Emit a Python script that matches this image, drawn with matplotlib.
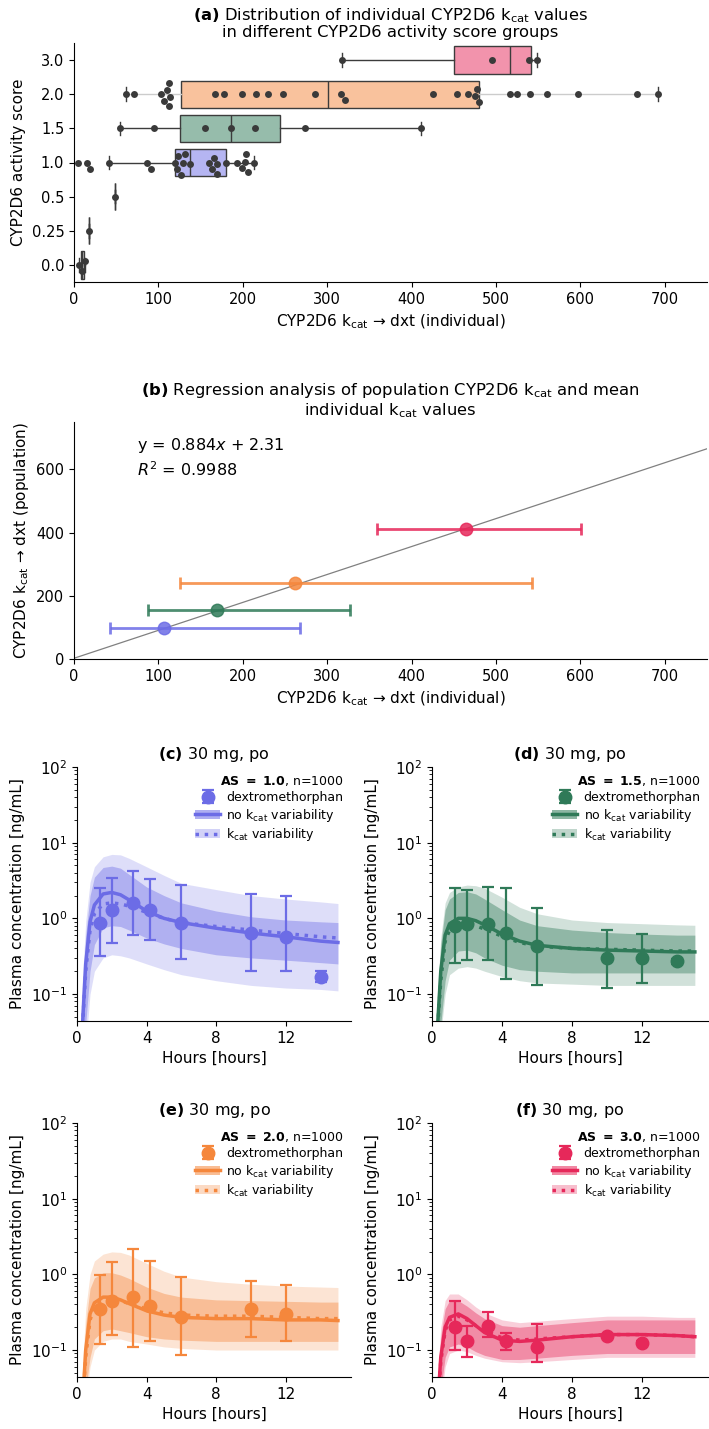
import numpy as np
import pandas as pd
import matplotlib
matplotlib.use('Agg')
import matplotlib.pyplot as plt
import matplotlib.colors as mcolors
import seaborn as sns
from matplotlib.patches import Patch
from matplotlib.lines import Line2D

plt.rcParams['font.family'] = ['DejaVu Sans']
plt.rcParams['mathtext.default'] = 'regular'

C10 = '#6c6ce6'; C15 = '#2f7a58'; C20 = '#f5873c'; C30 = '#e6285a'
DOT = '#3a3a3a'

# ── (a) individual kcat values per activity score group ─────
as_order = ['3.0', '2.0', '1.5', '1.0', '0.5', '0.25', '0.0']
kcat_as30 = [317, 495, 539, 548]
kcat_as20 = [62, 71, 103, 107, 110, 112, 113, 114, 167, 178, 199, 216, 230, 248,
             285, 316, 321, 425, 454, 467, 475, 478, 480, 516, 525, 540, 560, 597,
             667, 692]
kcat_as15 = [55, 95, 155, 186, 215, 274, 411]
kcat_as10 = [4.6, 15, 19, 41.5, 87, 91, 120, 122.5, 123.6, 127.3, 129, 131.5, 137,
             160, 163, 166, 169, 169, 180, 193.5, 199, 203, 204, 206, 213]
kcat_as05 = [48]
kcat_as025 = [18]
kcat_as00 = [6, 10, 13]
box_colors = [C30, C20, C15, C10, '#999999', '#999999', '#999999']

# ── (b) regression population vs. mean individual kcat ──────
reg_colors = [C10, C15, C20, C30]
ind_mean = [107, 170, 262, 465]
ind_lo = [43, 88, 126, 359]
ind_hi = [268, 327, 543, 601]
pop_kcat = [98, 155, 242, 411]
reg_slope, reg_icpt, reg_r2 = 0.884, 2.31, 0.9988

# ── (c)-(f) PK simulations ───────────────────────────────────
t_sim = [0, 0.25, 0.5, 0.75, 1, 1.5, 2, 2.5, 3, 4, 5, 6, 8, 10, 12, 14, 15]

med10 = [0.001, 0.02, 0.25, 0.9, 1.5, 2.1, 2.2, 2.05, 1.75, 1.25, 1.0, 0.88, 0.74, 0.64, 0.57, 0.5, 0.48]
var10 = [0.001, 0.02, 0.2, 0.7, 1.15, 1.55, 1.6, 1.55, 1.45, 1.2, 1.0, 0.88, 0.78, 0.7, 0.63, 0.57, 0.55]
nlo10 = [0.001, 0.005, 0.04, 0.2, 0.45, 0.75, 0.8, 0.78, 0.7, 0.55, 0.46, 0.4, 0.33, 0.3, 0.28, 0.26, 0.25]
nhi10 = [0.001, 0.06, 0.6, 2.0, 3.5, 4.7, 4.9, 4.6, 3.8, 2.6, 2.0, 1.6, 1.25, 1.05, 0.95, 0.9, 0.88]
vlo10 = [0.001, 0.002, 0.02, 0.1, 0.2, 0.3, 0.33, 0.32, 0.3, 0.25, 0.21, 0.18, 0.15, 0.13, 0.12, 0.115, 0.11]
vhi10 = [0.001, 0.09, 0.9, 3.0, 4.8, 6.5, 7.0, 6.9, 6.2, 4.8, 3.7, 2.9, 2.4, 2.0, 1.8, 1.65, 1.57]

med15 = [0.001, 0.02, 0.2, 0.6, 0.85, 1.0, 1.0, 0.93, 0.82, 0.62, 0.5, 0.44, 0.4, 0.38, 0.37, 0.36, 0.36]
var15 = [0.001, 0.02, 0.15, 0.5, 0.7, 0.82, 0.85, 0.8, 0.72, 0.58, 0.48, 0.43, 0.4, 0.39, 0.38, 0.37, 0.37]
nlo15 = [0.001, 0.005, 0.04, 0.15, 0.28, 0.37, 0.38, 0.35, 0.3, 0.24, 0.21, 0.2, 0.19, 0.19, 0.19, 0.19, 0.19]
nhi15 = [0.001, 0.05, 0.45, 1.3, 1.8, 2.2, 2.25, 2.1, 1.8, 1.3, 0.95, 0.8, 0.7, 0.65, 0.62, 0.6, 0.6]
vlo15 = [0.001, 0.003, 0.03, 0.1, 0.18, 0.22, 0.23, 0.22, 0.2, 0.17, 0.15, 0.14, 0.135, 0.13, 0.13, 0.13, 0.13]
vhi15 = [0.001, 0.06, 0.55, 1.6, 2.2, 2.6, 2.75, 2.7, 2.5, 1.9, 1.4, 1.15, 0.95, 0.88, 0.85, 0.82, 0.81]

med20 = [0.001, 0.01, 0.1, 0.3, 0.42, 0.5, 0.5, 0.46, 0.41, 0.33, 0.29, 0.27, 0.26, 0.26, 0.25, 0.25, 0.245]
var20 = [0.001, 0.01, 0.08, 0.25, 0.37, 0.45, 0.47, 0.45, 0.41, 0.35, 0.31, 0.29, 0.28, 0.28, 0.27, 0.26, 0.26]
nlo20 = [0.001, 0.003, 0.03, 0.08, 0.14, 0.18, 0.19, 0.18, 0.17, 0.15, 0.14, 0.135, 0.13, 0.13, 0.13, 0.13, 0.13]
nhi20 = [0.001, 0.02, 0.22, 0.65, 0.9, 1.05, 1.05, 0.98, 0.88, 0.68, 0.56, 0.5, 0.46, 0.45, 0.44, 0.43, 0.43]
vlo20 = [0.001, 0.002, 0.02, 0.06, 0.1, 0.13, 0.14, 0.14, 0.13, 0.12, 0.11, 0.105, 0.1, 0.1, 0.1, 0.1, 0.1]
vhi20 = [0.001, 0.03, 0.35, 1.0, 1.5, 1.85, 1.98, 1.95, 1.8, 1.4, 1.1, 0.92, 0.8, 0.74, 0.7, 0.68, 0.67]

med30 = [0.001, 0.01, 0.08, 0.2, 0.27, 0.3, 0.26, 0.21, 0.17, 0.135, 0.13, 0.135, 0.15, 0.16, 0.16, 0.155, 0.15]
var30 = [0.001, 0.01, 0.07, 0.18, 0.25, 0.28, 0.25, 0.21, 0.18, 0.145, 0.135, 0.14, 0.15, 0.16, 0.16, 0.155, 0.15]
nlo30 = [0.001, 0.003, 0.03, 0.08, 0.11, 0.12, 0.11, 0.095, 0.085, 0.075, 0.075, 0.078, 0.085, 0.09, 0.09, 0.09, 0.09]
nhi30 = [0.001, 0.02, 0.15, 0.35, 0.45, 0.45, 0.38, 0.31, 0.26, 0.21, 0.2, 0.21, 0.23, 0.25, 0.25, 0.25, 0.25]
vlo30 = [0.001, 0.002, 0.02, 0.06, 0.09, 0.1, 0.095, 0.085, 0.078, 0.07, 0.068, 0.07, 0.075, 0.08, 0.08, 0.08, 0.08]
vhi30 = [0.001, 0.025, 0.2, 0.45, 0.55, 0.55, 0.46, 0.37, 0.31, 0.25, 0.23, 0.24, 0.26, 0.28, 0.28, 0.27, 0.27]

# observed dextromethorphan (mean, lower, upper)
t_obs10 = [1.3, 2.0, 3.2, 4.2, 6.0, 10.0, 12.0, 14.0]
obs10 = [0.88, 1.28, 1.6, 1.3, 0.88, 0.64, 0.57, 0.17]
olo10 = [0.32, 0.47, 0.61, 0.51, 0.29, 0.2, 0.2, 0.145]
ohi10 = [2.48, 3.46, 4.23, 3.28, 2.74, 2.08, 1.98, 0.2]

t_obs15 = [1.3, 2.0, 3.2, 4.2, 6.0, 10.0, 12.0, 14.0]
obs15 = [0.79, 0.83, 0.85, 0.64, 0.43, 0.3, 0.3, 0.27]
olo15 = [0.26, 0.28, 0.28, 0.16, 0.13, 0.12, 0.14, 0.25]
ohi15 = [2.52, 2.35, 2.6, 2.55, 1.37, 0.71, 0.63, 0.29]

t_obs20 = [1.3, 2.0, 3.2, 4.2, 6.0, 10.0, 12.0]
obs20 = [0.35, 0.45, 0.5, 0.38, 0.27, 0.35, 0.3]
olo20 = [0.12, 0.16, 0.11, 0.13, 0.085, 0.15, 0.13]
ohi20 = [0.98, 1.45, 2.16, 1.49, 0.92, 0.82, 0.73]

t_obs30 = [1.3, 2.0, 3.2, 4.2, 6.0, 10.0, 12.0]
obs30 = [0.2, 0.13, 0.21, 0.13, 0.11, 0.155, 0.125]
olo30 = [0.1, 0.08, 0.15, 0.1, 0.07, 0.15, 0.12]
ohi30 = [0.45, 0.21, 0.32, 0.17, 0.22, 0.16, 0.13]

W, H = 709, 1429
fig = plt.figure(figsize=(W / 100, H / 100), dpi=100)

def px_axes(l, t, r, b):
    return fig.add_axes([l / W, 1 - b / H, (r - l) / W, (b - t) / H])

# ── panel (a) ───────────────────────────────────────────────
ax1 = px_axes(74, 43, 707, 282)
groups = [kcat_as30, kcat_as20, kcat_as15, kcat_as10, kcat_as05, kcat_as025, kcat_as00]
bp = ax1.boxplot(groups, positions=range(len(groups)), orientation='horizontal',
                 widths=0.8, patch_artist=True, showfliers=False, manage_ticks=False,
                 medianprops=dict(color='#3c3c3c', lw=1),
                 whiskerprops=dict(color='#3c3c3c', lw=1),
                 capprops=dict(color='#3c3c3c', lw=1),
                 boxprops=dict(lw=1))
for patch, c in zip(bp['boxes'], box_colors):
    patch.set_facecolor(mcolors.to_rgba(c, 0.5))
    patch.set_edgecolor('#3c3c3c')
# AS 2.0 whiskers drawn light
for w in bp['whiskers'][2:4]:
    w.set_color('#cccccc')

df_a = pd.DataFrame({
    'AS': sum([[lab] * len(g) for lab, g in zip(as_order, groups)], []),
    'kcat': sum([list(g) for g in groups], []),
})
sns.swarmplot(data=df_a, x='kcat', y='AS', order=as_order, color=DOT, size=5,
              ax=ax1, zorder=3)
ax1.set_ylim(6.5, -0.5)
ax1.set_xlim(0, 750)
ax1.set_xticks(range(0, 701, 100))
ax1.tick_params(labelsize=10.5)
ax1.set_xlabel(r'CYP2D6 k$_{cat}$ → dxt (individual)', fontsize=11)
ax1.set_ylabel('CYP2D6 activity score', fontsize=11)
ax1.set_title(r'$\bf{(a)}$ Distribution of individual CYP2D6 k$_{cat}$ values' '\n'
              'in different CYP2D6 activity score groups',
              fontsize=11.8, pad=4, linespacing=1.05)
for s in ['top', 'right']:
    ax1.spines[s].set_visible(False)

# ── panel (b) ───────────────────────────────────────────────
ax2 = px_axes(74, 422, 707, 659)
ax2.axline((0, reg_icpt), slope=reg_slope, color='#808080', lw=0.9, zorder=1)
for xm, lo, hi, yp, c in zip(ind_mean, ind_lo, ind_hi, pop_kcat, reg_colors):
    ax2.errorbar([xm], [yp], xerr=[[xm - lo], [hi - xm]], fmt='o', color=c,
                 ms=9, lw=2, capsize=4, capthick=2, alpha=0.85, zorder=3)
ax2.text(0.1, 0.9, 'y = 0.884$\\it{x}$ + 2.31', transform=ax2.transAxes,
         fontsize=11.5, va='center')
ax2.text(0.1, 0.8, '$\\it{R}^2$ = %.4f' % reg_r2, transform=ax2.transAxes,
         fontsize=11.5, va='center')
ax2.set_xlim(0, 750)
ax2.set_ylim(0, 750)
ax2.set_xticks(range(0, 701, 100))
ax2.set_yticks([0, 200, 400, 600])
ax2.tick_params(labelsize=10.5)
ax2.set_xlabel(r'CYP2D6 k$_{cat}$ → dxt (individual)', fontsize=11)
ax2.set_ylabel(r'CYP2D6 k$_{cat}$ → dxt (population)', fontsize=11)
ax2.set_title(r'$\bf{(b)}$ Regression analysis of population CYP2D6 k$_{cat}$ and mean' '\n'
              r'individual k$_{cat}$ values',
              fontsize=11.8, pad=5, linespacing=1.05)
for s in ['top', 'right']:
    ax2.spines[s].set_visible(False)

# ── panels (c)-(f) ──────────────────────────────────────────
def pk_panel(ax, tag, as_lab, col, med, var, nlo, nhi, vlo, vhi, t_o, obs, olo, ohi):
    ax.fill_between(t_sim, vlo, vhi, color=col, alpha=0.22, lw=0)
    ax.fill_between(t_sim, nlo, nhi, color=col, alpha=0.4, lw=0)
    ax.plot(t_sim, med, color=col, lw=2.5)
    ax.plot(t_sim, var, color=col, lw=2.5, ls=':')
    obs_a = np.array(obs)
    eb = ax.errorbar(t_o, obs, yerr=[obs_a - np.array(olo), np.array(ohi) - obs_a],
                     fmt='o', color=col, ms=9, lw=1.6, capsize=4.5, capthick=1.6,
                     zorder=5)
    ax.set_yscale('log')
    ax.set_ylim(0.044, 100)
    ax.set_xlim(0, 15.75)
    ax.set_xticks([0, 4, 8, 12])
    ax.tick_params(labelsize=11)
    ax.set_xlabel('Hours [hours]', fontsize=11)
    ax.set_ylabel('Plasma concentration [ng/mL]', fontsize=11)
    ax.set_title(r'$\bf{(%s)}$ 30 mg, po' % tag, fontsize=11.5)
    for s in ['top', 'right']:
        ax.spines[s].set_visible(False)
    h_no = (Patch(facecolor=col, alpha=0.55, lw=0), Line2D([], [], color=col, lw=2.5))
    h_var = (Patch(facecolor=col, alpha=0.3, lw=0), Line2D([], [], color=col, lw=2.5, ls=':'))
    ax.legend([eb, h_no, h_var],
              ['dextromethorphan', r'no k$_{cat}$ variability', r'k$_{cat}$ variability'],
              title=r'$\mathbf{AS\ =\ %s}$, n=1000' % as_lab, title_fontsize=9,
              fontsize=9, frameon=False, loc='upper right', alignment='right',
              handlelength=2.0, borderaxespad=0.2, labelspacing=0.2, handletextpad=0.5)

axc = px_axes(77, 767, 351, 1021)
pk_panel(axc, 'c', '1.0', C10, med10, var10, nlo10, nhi10, vlo10, vhi10,
         t_obs10, obs10, olo10, ohi10)
axd = px_axes(432, 767, 708, 1021)
pk_panel(axd, 'd', '1.5', C15, med15, var15, nlo15, nhi15, vlo15, vhi15,
         t_obs15, obs15, olo15, ohi15)
axe = px_axes(77, 1123, 351, 1377)
pk_panel(axe, 'e', '2.0', C20, med20, var20, nlo20, nhi20, vlo20, vhi20,
         t_obs20, obs20, olo20, ohi20)
axf = px_axes(432, 1123, 708, 1377)
pk_panel(axf, 'f', '3.0', C30, med30, var30, nlo30, nhi30, vlo30, vhi30,
         t_obs30, obs30, olo30, ohi30)

fig.savefig('out.png', dpi=100)
